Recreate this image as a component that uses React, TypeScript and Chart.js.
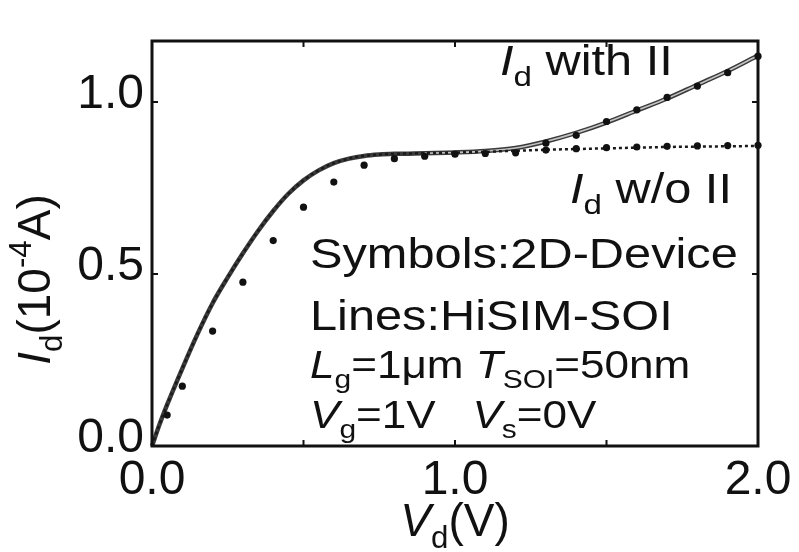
import React, { useEffect, useRef } from "react";
import { Chart, registerables } from "chart.js";
Chart.register(...registerables);

// HiSIM-SOI lines
const lineV = [0, 0.025, 0.05, 0.1, 0.15, 0.2, 0.25, 0.3, 0.35, 0.4, 0.45, 0.5, 0.55, 0.6, 0.65, 0.7, 0.75, 0.8, 0.9, 1.0, 1.1, 1.2, 1.3, 1.4, 1.5, 1.6, 1.7, 1.8, 1.9, 2.0];
const lineWithII = [0, 0.063, 0.12, 0.225, 0.325, 0.415, 0.49, 0.56, 0.625, 0.683, 0.733, 0.772, 0.801, 0.822, 0.835, 0.843, 0.847, 0.849, 0.851, 0.853, 0.857, 0.866, 0.885, 0.91, 0.94, 0.975, 1.01, 1.05, 1.09, 1.135];
const lineWoII = [0, 0.063, 0.12, 0.225, 0.325, 0.415, 0.49, 0.56, 0.625, 0.683, 0.733, 0.772, 0.801, 0.822, 0.835, 0.843, 0.847, 0.849, 0.851, 0.853, 0.855, 0.858, 0.861, 0.863, 0.865, 0.867, 0.869, 0.870, 0.871, 0.872];

// 2D-Device symbols
const symV = [0.05, 0.1, 0.2, 0.3, 0.4, 0.5, 0.6, 0.7, 0.8, 0.9, 1.0, 1.1, 1.2, 1.3, 1.4, 1.5, 1.6, 1.7, 1.8, 1.9, 2.0];
const symWoII = [0.09, 0.174, 0.334, 0.476, 0.597, 0.694, 0.767, 0.816, 0.835, 0.842, 0.848, 0.85, 0.852, 0.86, 0.864, 0.867, 0.869, 0.871, 0.872, 0.873, 0.874];
const symWithV = [1.3, 1.4, 1.5, 1.6, 1.7, 1.8, 1.9, 2.0];
const symWithII = [0.88, 0.903, 0.943, 0.977, 1.013, 1.046, 1.085, 1.133];

// axes
const xMin = 0, xMax = 2.0, yMin = 0, yMax = 1.177;
const xTickVals = [0, 0.5, 1.0, 1.5, 2.0];
const xLabelVals = [0, 1.0, 2.0];
const xTickLabels = ["0.0", "1.0", "2.0"];
const yTickVals = [0, 0.5, 1.0];
const yLabelVals = [0, 0.5, 1.0];
const yTickLabels = ["0.0", "0.5", "1.0"];

const FONT = '"Liberation Sans", Arial, Helvetica, sans-serif';

type Seg = { t: string; it?: boolean; sub?: boolean; sup?: boolean };

function segFont(s: Seg, size: number) {
  const sz = s.sub || s.sup ? size * 0.68 : size;
  return `${s.it ? "italic " : ""}${sz}px ${FONT}`;
}

function richWidth(ctx: CanvasRenderingContext2D, segs: Seg[], size: number) {
  let w = 0;
  for (const s of segs) {
    ctx.font = segFont(s, size);
    w += ctx.measureText(s.t).width;
  }
  return w;
}

function drawRich(ctx: CanvasRenderingContext2D, segs: Seg[], x: number, y: number, size: number, sx = 1, align: "left" | "center" | "right" = "left") {
  ctx.save();
  ctx.translate(x, y);
  ctx.scale(sx, 1);
  const w = richWidth(ctx, segs, size);
  let cx = align === "left" ? 0 : align === "center" ? -w / 2 : -w;
  ctx.textBaseline = "alphabetic";
  ctx.textAlign = "left";
  ctx.fillStyle = "#111";
  for (const s of segs) {
    ctx.font = segFont(s, size);
    const dy = s.sub ? size * 0.26 : s.sup ? -size * 0.42 : 0;
    ctx.fillText(s.t, cx, dy);
    cx += ctx.measureText(s.t).width;
  }
  ctx.restore();
}

const framePlugin = {
  id: "framePlugin",
  afterDraw(chart: any) {
    const ctx: CanvasRenderingContext2D = chart.ctx;
    const { left, right, top, bottom } = chart.chartArea;
    const xs = chart.scales.x;
    const ys = chart.scales.y;
    ctx.save();
    ctx.strokeStyle = "#111";
    ctx.lineWidth = 3;
    ctx.strokeRect(left, top, right - left, bottom - top);
    ctx.lineWidth = 2;
    const tl = 6;
    for (const v of xTickVals) {
      const px = xs.getPixelForValue(v);
      ctx.beginPath();
      ctx.moveTo(px, bottom);
      ctx.lineTo(px, bottom - tl);
      ctx.moveTo(px, top);
      ctx.lineTo(px, top + tl);
      ctx.stroke();
    }
    for (const v of yTickVals) {
      const py = ys.getPixelForValue(v);
      ctx.beginPath();
      ctx.moveTo(left, py);
      ctx.lineTo(left + tl, py);
      ctx.moveTo(right, py);
      ctx.lineTo(right - tl, py);
      ctx.stroke();
    }
    // tick labels
    const tsz = 48;
    xLabelVals.forEach((v, i) => {
      const px = xs.getPixelForValue(v);
      drawRich(ctx, [{ t: xTickLabels[i] }], px, bottom + 48, tsz, 1, "center");
    });
    yLabelVals.forEach((v, i) => {
      const py = ys.getPixelForValue(v);
      drawRich(ctx, [{ t: yTickLabels[i] }], left - 8, py + 6, tsz, 1, "right");
    });
    // axis titles
    drawRich(ctx, [{ t: "V", it: true }, { t: "d", sub: true }, { t: "(V)" }], (left + right) / 2, 536, 46, 1, "center");
    ctx.save();
    ctx.translate(50, (top + bottom) / 2 + 36);
    ctx.rotate(-Math.PI / 2);
    drawRich(ctx, [{ t: "I", it: true }, { t: "d", sub: true }, { t: "(10" }, { t: "-4", sup: true }, { t: "A)" }], 0, 0, 46, 1, "center");
    ctx.restore();
    // annotations
    const asz = 42, asx = 1.16;
    drawRich(ctx, [{ t: "I", it: true }, { t: "d", sub: true }, { t: " with II" }], 500, 75, asz, asx);
    drawRich(ctx, [{ t: "I", it: true }, { t: "d", sub: true }, { t: " w/o II" }], 570, 203, asz, asx);
    drawRich(ctx, [{ t: "Symbols:2D-Device" }], 310, 268, asz, asx);
    drawRich(ctx, [{ t: "Lines:HiSIM-SOI" }], 310, 330, asz, asx);
    drawRich(ctx, [{ t: "L", it: true }, { t: "g", sub: true }, { t: "=1μm " }, { t: "T", it: true }, { t: "SOI", sub: true }, { t: "=50nm" }], 310, 378, 38, asx);
    drawRich(ctx, [{ t: "V", it: true }, { t: "g", sub: true }, { t: "=1V   " }, { t: "V", it: true }, { t: "s", sub: true }, { t: "=0V" }], 310, 428, 38, asx);
    ctx.restore();
  },
};

function pts(xv: number[], yv: number[]) {
  return xv.map((x, i) => ({ x, y: yv[i] }));
}

export default function App() {
  const ref = useRef<HTMLCanvasElement | null>(null);
  useEffect(() => {
    if (!ref.current) return;
    const innerIdx = lineV.map((v, i) => i).filter((i) => lineV[i] >= 0.9);
    const chart = new Chart(ref.current, {
      type: "line",
      data: {
        datasets: [
          {
            label: "with II outline",
            data: pts(lineV, lineWithII),
            borderColor: "#3a3a3a",
            borderWidth: 4.5,
            pointRadius: 0,
            cubicInterpolationMode: "monotone",
            order: 5,
            clip: 6,
          } as any,
          {
            label: "with II inner",
            data: innerIdx.map((i) => ({ x: lineV[i], y: lineWithII[i] })),
            borderColor: "#c4c4c4",
            borderWidth: 1.6,
            pointRadius: 0,
            cubicInterpolationMode: "monotone",
            order: 4,
            clip: 6,
          } as any,
          {
            label: "w/o II line",
            data: pts(lineV, lineWoII),
            borderColor: "#1a1a1a",
            borderWidth: 2.5,
            borderDash: [3, 3],
            pointRadius: 0,
            cubicInterpolationMode: "monotone",
            order: 3,
            clip: 6,
          } as any,
          {
            label: "sym w/o II",
            data: pts(symV, symWoII),
            showLine: false,
            pointRadius: 3.6,
            pointBackgroundColor: "#111",
            pointBorderColor: "#111",
            pointBorderWidth: 0,
            order: 2,
            clip: 8,
          } as any,
          {
            label: "sym with II",
            data: pts(symWithV, symWithII),
            showLine: false,
            pointRadius: 3.6,
            pointBackgroundColor: "#111",
            pointBorderColor: "#111",
            pointBorderWidth: 0,
            order: 1,
            clip: 8,
          } as any,
        ],
      },
      options: {
        animation: false,
        responsive: false,
        devicePixelRatio: 1,
        layout: { padding: { left: 152, right: 41, top: 41, bottom: 106 } },
        plugins: { legend: { display: false }, tooltip: { enabled: false } },
        scales: {
          x: { type: "linear", min: xMin, max: xMax, display: false },
          y: { type: "linear", min: yMin, max: yMax, display: false },
        },
      },
      plugins: [framePlugin],
    });
    return () => chart.destroy();
  }, []);
  return (
    <div style={{ position: "absolute", left: 0, top: 0, width: 799, height: 552, background: "#fff" }}>
      <canvas ref={ref} width={799} height={552} style={{ display: "block" }} />
    </div>
  );
}
